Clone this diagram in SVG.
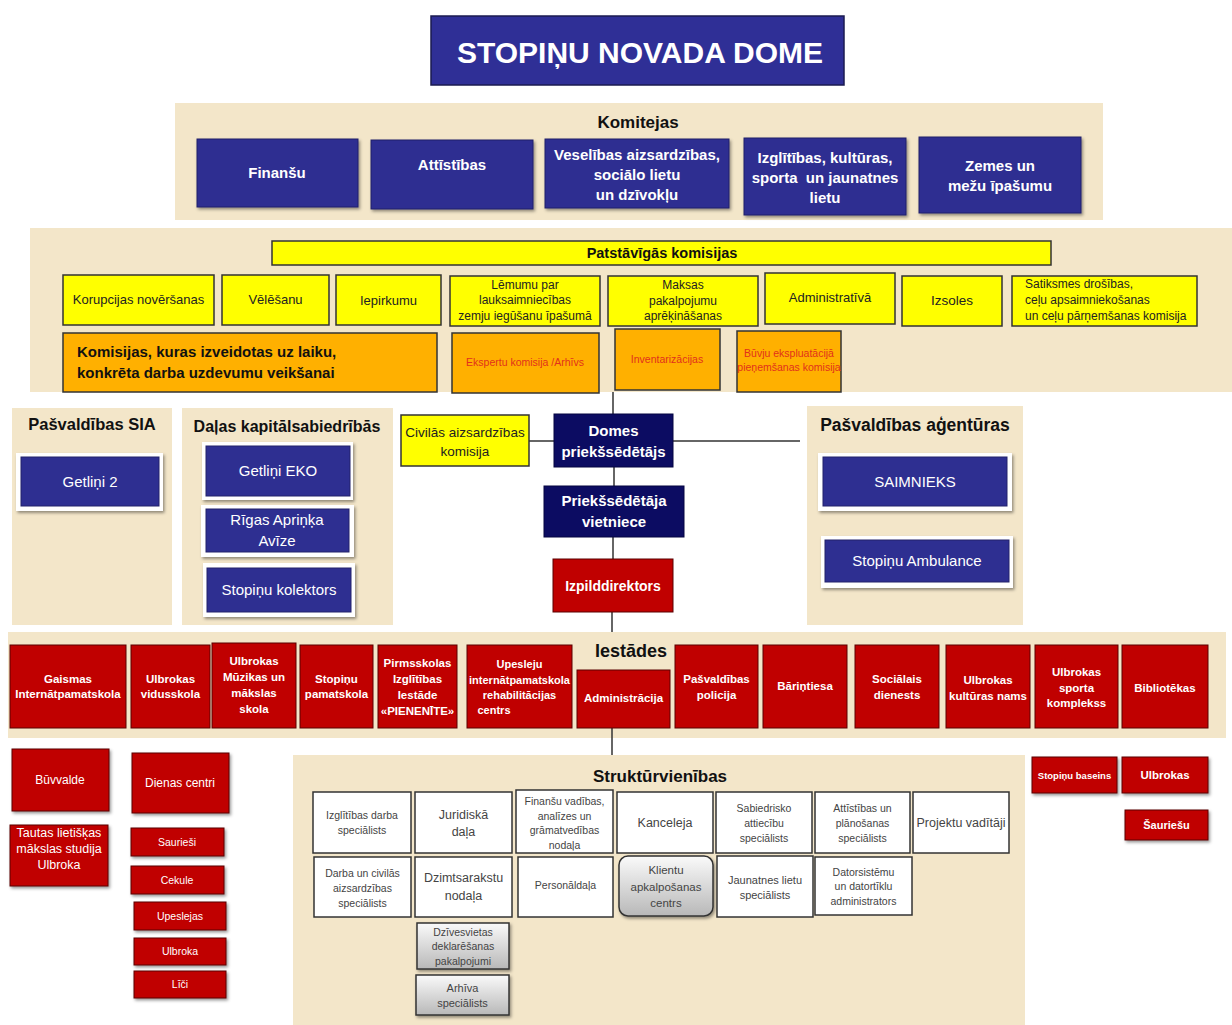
<svg xmlns="http://www.w3.org/2000/svg" width="1232" height="1025" viewBox="0 0 1232 1025">
<defs>
<style>
text{font-family:'Liberation Sans',Arial,sans-serif;text-anchor:middle}
.panel{fill:#F3E6C9}
.kb{fill:#2E2F91;stroke:#22226a;stroke-width:1}
.navy{fill:#0C0C62;stroke:#050540;stroke-width:1}
.wt{fill:#fff}
.b{font-weight:bold}
.hd{fill:#111;font-weight:bold}
.yel{fill:#FFFF00;stroke:#333;stroke-width:1.5}
.org{fill:#FFB000;stroke:#333;stroke-width:1.5}
.dt{fill:#222}
.rt{fill:#E2301C}
.red{fill:#C00000;stroke:#5a0000;stroke-width:1}
.frame{fill:#fff}
.sbox{fill:#fff;stroke:#333;stroke-width:1.5}
.gbox{fill:url(#gg);stroke:#333;stroke-width:1.5}
.st{fill:#444}
.ln{stroke:#333;stroke-width:1.5;fill:none}
</style>
<linearGradient id="gg" x1="0" y1="0" x2="0" y2="1">
<stop offset="0" stop-color="#FAFAFA"/>
<stop offset="1" stop-color="#B8B8B8"/>
</linearGradient>
<filter id="sh" x="-10%" y="-10%" width="130%" height="140%">
<feDropShadow dx="1.5" dy="2" stdDeviation="1.5" flood-color="#000" flood-opacity="0.4"/>
</filter>
</defs>
<rect width="1232" height="1025" fill="#fff"/>

<!-- panels -->
<g id="panels">
<rect class="panel" x="175" y="103" width="928" height="117"/>
<rect class="panel" x="30" y="228" width="1202" height="164"/>
<rect class="panel" x="12" y="408" width="160" height="217"/>
<rect class="panel" x="182" y="408" width="211" height="217"/>
<rect class="panel" x="807" y="406" width="216" height="219"/>
<rect class="panel" x="8" y="632" width="1218" height="106"/>
<rect class="panel" x="293" y="755" width="732" height="270"/>
</g>

<!-- connectors -->
<g id="connectors">
<path class="ln" d="M613,392 V414"/>
<path class="ln" d="M614,467 V486"/>
<path class="ln" d="M613,537 V559"/>
<path class="ln" d="M612,612 V632"/>
<path class="ln" d="M529,441 H554"/>
<path class="ln" d="M673,441 H800"/>
<path class="ln" d="M612,728 V755"/>
</g>

<g id="title">
<rect x="431" y="16" width="413" height="69" fill="#2F2F96" stroke="#1b1b50" stroke-width="1.5"/>
<text x="640" y="63" class="wt b" font-size="30">STOPIŅU NOVADA DOME</text>
</g>

<g id="komitejas">
<text x="638" y="128" class="hd" font-size="17">Komitejas</text>
</g>
<g id="k-finansu"><rect class="kb" x="197" y="139" width="161" height="68" filter="url(#sh)"/><text class="wt b" font-size="15" x="277" y="178">Finanšu</text></g>
<g id="k-attistibas"><rect class="kb" x="371" y="140" width="162" height="69" filter="url(#sh)"/><text class="wt b" font-size="15" x="452" y="170">Attīstības</text></g>
<g id="k-veselibas"><rect class="kb" x="545" y="139" width="184" height="69" filter="url(#sh)"/><text class="wt b" font-size="15" x="637"><tspan x="637" y="160">Veselības aizsardzības,</tspan><tspan x="637" y="180">sociālo lietu</tspan><tspan x="637" y="200">un dzīvokļu</tspan></text></g>
<g id="k-izglitibas"><rect class="kb" x="744" y="138" width="162" height="77" filter="url(#sh)"/><text class="wt b" font-size="15" x="825"><tspan x="825" y="163">Izglītības, kultūras,</tspan><tspan x="825" y="183">sporta&#160; un jaunatnes</tspan><tspan x="825" y="203">lietu</tspan></text></g>
<g id="k-zemes"><rect class="kb" x="919" y="137" width="162" height="76" filter="url(#sh)"/><text class="wt b" font-size="15" x="1000"><tspan x="1000" y="171">Zemes un</tspan><tspan x="1000" y="191">mežu īpašumu</tspan></text></g>

<g id="patstavigas"><rect class="yel" x="272" y="241" width="779" height="24"/><text class="hd" font-size="14.5" x="662" y="258">Patstāvīgās komisijas</text></g>
<g id="p-korupcijas"><rect class="yel" x="63" y="275" width="151" height="50"/><text class="dt" font-size="13" x="138.5" y="304">Korupcijas novēršanas</text></g>
<g id="p-velesanu"><rect class="yel" x="222" y="275" width="107" height="50"/><text class="dt" font-size="13" x="275.5" y="304">Vēlēšanu</text></g>
<g id="p-iepirkumu"><rect class="yel" x="336" y="275" width="105" height="50"/><text class="dt" font-size="13" x="388.5" y="305">Iepirkumu</text></g>
<g id="p-lemumu"><rect class="yel" x="450" y="276" width="150" height="50"/><text class="dt" font-size="12" x="525"><tspan x="525" y="289">Lēmumu par</tspan><tspan x="525" y="304">lauksaimniecības</tspan><tspan x="525" y="320">zemju iegūšanu īpašumā</tspan></text></g>
<g id="p-maksas"><rect class="yel" x="608" y="276" width="150" height="50"/><text class="dt" font-size="12" x="683"><tspan x="683" y="289">Maksas</tspan><tspan x="683" y="305">pakalpojumu</tspan><tspan x="683" y="320">aprēķināšanas</tspan></text></g>
<g id="p-administrativa"><rect class="yel" x="765" y="273" width="130" height="51"/><text class="dt" font-size="13" x="830" y="302">Administratīvā</text></g>
<g id="p-izsoles"><rect class="yel" x="902" y="276" width="100" height="50"/><text class="dt" font-size="13.5" x="952" y="305">Izsoles</text></g>
<g id="p-satiksmes"><rect class="yel" x="1012" y="276" width="185" height="50"/><text class="dt" font-size="12" style="text-anchor:start"><tspan x="1025" y="288">Satiksmes drošības,</tspan><tspan x="1025" y="304">ceļu apsaimniekošanas</tspan><tspan x="1025" y="320">un ceļu pārņemšanas komisija</tspan></text></g>

<g id="o-komisijas"><rect class="org" x="63" y="333" width="374" height="59"/><text class="hd" font-size="15" style="text-anchor:start"><tspan x="77" y="357">Komisijas, kuras izveidotas uz laiku,</tspan><tspan x="77" y="378">konkrēta darba uzdevumu veikšanai</tspan></text></g>
<g id="o-ekspertu"><rect class="org" x="452" y="333" width="147" height="60"/><text class="rt" font-size="10.5" x="525" y="366">Ekspertu komisija /Arhīvs</text></g>
<g id="o-inventarizacijas"><rect class="org" x="615" y="329" width="105" height="61"/><text class="rt" font-size="10.5" x="667" y="363">Inventarizācijas</text></g>
<g id="o-buvju"><rect class="org" x="737" y="331" width="104" height="61"/><text class="rt" font-size="10.5" x="789"><tspan x="789" y="357">Būvju ekspluatācijā</tspan><tspan x="789" y="371">pieņemšanas komisija</tspan></text></g>

<g id="sia"><text class="hd" font-size="16.5" x="92" y="430">Pašvaldības SIA</text></g>
<g id="sia-getlini2"><rect class="frame" x="16" y="453" width="147" height="58" filter="url(#sh)"/><rect class="kb" x="21" y="457" width="138" height="49" stroke="none"/><text class="wt" font-size="15" x="90" y="487">Getliņi 2</text></g>

<g id="dalas"><text class="hd" font-size="16" x="287" y="432">Daļas kapitālsabiedrībās</text></g>
<g id="d-getlinieko"><rect class="frame" x="202" y="442" width="151" height="58" filter="url(#sh)"/><rect class="kb" x="206" y="446" width="144" height="50" stroke="none"/><text class="wt" font-size="15" x="278" y="476">Getliņi EKO</text></g>
<g id="d-rigas"><rect class="frame" x="201" y="505" width="153" height="52" filter="url(#sh)"/><rect class="kb" x="206" y="509" width="143" height="43" stroke="none"/><text class="wt" font-size="15" x="277"><tspan x="277" y="525">Rīgas Apriņķa</tspan><tspan x="277" y="546">Avīze</tspan></text></g>
<g id="d-kolektors"><rect class="frame" x="203" y="563" width="152" height="54" filter="url(#sh)"/><rect class="kb" x="207" y="568" width="144" height="44" stroke="none"/><text class="wt" font-size="15" x="279" y="595">Stopiņu kolektors</text></g>

<g id="civilas"><rect class="yel" x="401" y="415" width="128" height="51"/><text class="dt" font-size="13.5" x="465"><tspan x="465" y="437">Civilās aizsardzības</tspan><tspan x="465" y="456">komisija</tspan></text></g>
<g id="domes"><rect class="navy" x="554" y="414" width="119" height="53"/><text class="wt b" font-size="15" x="613.5"><tspan x="613.5" y="436">Domes</tspan><tspan x="613.5" y="457">priekšsēdētājs</tspan></text></g>
<g id="vietniece"><rect class="navy" x="544" y="486" width="140" height="51"/><text class="wt b" font-size="15" x="614"><tspan x="614" y="506">Priekšsēdētāja</tspan><tspan x="614" y="527">vietniece</tspan></text></g>
<g id="izpilddirektors"><rect class="red" x="553" y="559" width="120" height="53"/><text class="wt b" font-size="14" x="613" y="591">Izpilddirektors</text></g>

<g id="agenturas"><text class="hd" font-size="17.5" x="915" y="431">Pašvaldības aģentūras</text></g>
<g id="a-saimnieks"><rect class="frame" x="818" y="453" width="194" height="58" filter="url(#sh)"/><rect class="kb" x="823" y="457" width="184" height="49" stroke="none"/><text class="wt" font-size="15" x="915" y="487">SAIMNIEKS</text></g>
<g id="a-ambulance"><rect class="frame" x="821" y="536" width="192" height="52" filter="url(#sh)"/><rect class="kb" x="825" y="540" width="184" height="42" stroke="none"/><text class="wt" font-size="15" x="917" y="566">Stopiņu Ambulance</text></g>

<g id="iestades"><text class="hd" font-size="18" x="631" y="657">Iestādes</text></g>
<g id="i-gaismas"><rect class="red" x="10" y="645" width="116" height="83"/><text class="wt b" font-size="11.5"><tspan x="68" y="683">Gaismas</tspan><tspan x="68" y="698">Internātpamatskola</tspan></text></g>
<g id="i-ulbrokas-vsk"><rect class="red" x="131" y="645" width="79" height="83"/><text class="wt b" font-size="11.5"><tspan x="170.5" y="683">Ulbrokas</tspan><tspan x="170.5" y="698">vidusskola</tspan></text></g>
<g id="i-muzikas"><rect class="red" x="212" y="643" width="84" height="85"/><text class="wt b" font-size="11.5"><tspan x="254" y="665">Ulbrokas</tspan><tspan x="254" y="681">Mūzikas un</tspan><tspan x="254" y="697">mākslas</tspan><tspan x="254" y="713">skola</tspan></text></g>
<g id="i-stopinu-psk"><rect class="red" x="300" y="645" width="73" height="83"/><text class="wt b" font-size="11.5"><tspan x="336.5" y="683">Stopiņu</tspan><tspan x="336.5" y="698">pamatskola</tspan></text></g>
<g id="i-pienenite"><rect class="red" x="378" y="645" width="79" height="83"/><text class="wt b" font-size="11.5"><tspan x="417.5" y="667">Pirmsskolas</tspan><tspan x="417.5" y="683">Izglītības</tspan><tspan x="417.5" y="699">Iestāde</tspan><tspan x="417.5" y="715">«PIENENĪTE»</tspan></text></g>
<g id="i-upesleju"><rect class="red" x="467" y="645" width="105" height="83"/><text class="wt b" font-size="11"><tspan x="519.5" y="668">Upesleju</tspan><tspan x="519.5" y="684">internātpamatskola</tspan><tspan x="519.5" y="699">rehabilitācijas</tspan><tspan x="494" y="714">centrs</tspan></text></g>
<g id="i-administracija"><rect class="red" x="577" y="670" width="93" height="58"/><text class="wt b" font-size="11.5" x="623.5" y="702">Administrācija</text></g>
<g id="i-policija"><rect class="red" x="675" y="645" width="83" height="83"/><text class="wt b" font-size="11.5"><tspan x="716.5" y="683">Pašvaldības</tspan><tspan x="716.5" y="699">policija</tspan></text></g>
<g id="i-barintiesa"><rect class="red" x="763" y="645" width="84" height="83"/><text class="wt b" font-size="11.5" x="805" y="690">Bāriņtiesa</text></g>
<g id="i-socialais"><rect class="red" x="855" y="645" width="84" height="83"/><text class="wt b" font-size="11.5"><tspan x="897" y="683">Sociālais</tspan><tspan x="897" y="699">dienests</tspan></text></g>
<g id="i-kulturas"><rect class="red" x="946" y="645" width="84" height="83"/><text class="wt b" font-size="11.5"><tspan x="988" y="684">Ulbrokas</tspan><tspan x="988" y="700">kultūras nams</tspan></text></g>
<g id="i-sporta"><rect class="red" x="1035" y="645" width="83" height="83"/><text class="wt b" font-size="11.5"><tspan x="1076.5" y="676">Ulbrokas</tspan><tspan x="1076.5" y="692">sporta</tspan><tspan x="1076.5" y="707">komplekss</tspan></text></g>
<g id="i-bibliotekas"><rect class="red" x="1122" y="645" width="86" height="83"/><text class="wt b" font-size="11.5" x="1165" y="692">Bibliotēkas</text></g>

<g id="buvvalde"><rect class="red" x="12" y="749" width="97" height="62" filter="url(#sh)"/><text class="wt" font-size="12" x="60" y="784">Būvvalde</text></g>
<g id="dienas-centri"><rect class="red" x="132" y="753" width="97" height="60" filter="url(#sh)"/><text class="wt" font-size="12" x="180" y="787">Dienas centri</text></g>
<g id="tautas"><rect class="red" x="10" y="825" width="98" height="61" filter="url(#sh)"/><text class="wt" font-size="12.5"><tspan x="59" y="837">Tautas lietišķas</tspan><tspan x="59" y="853">mākslas studija</tspan><tspan x="59" y="869">Ulbroka</tspan></text></g>
<g id="dc-sauriesi"><rect class="red" x="131" y="828" width="93" height="28" filter="url(#sh)"/><text class="wt" font-size="10.5" x="177" y="846">Saurieši</text></g>
<g id="dc-cekule"><rect class="red" x="131" y="866" width="93" height="28" filter="url(#sh)"/><text class="wt" font-size="10.5" x="177" y="884">Cekule</text></g>
<g id="dc-upeslejas"><rect class="red" x="134" y="902" width="92" height="28" filter="url(#sh)"/><text class="wt" font-size="10.5" x="180" y="920">Upeslejas</text></g>
<g id="dc-ulbroka"><rect class="red" x="134" y="938" width="92" height="27" filter="url(#sh)"/><text class="wt" font-size="10.5" x="180" y="955">Ulbroka</text></g>
<g id="dc-lici"><rect class="red" x="134" y="971" width="92" height="27" filter="url(#sh)"/><text class="wt" font-size="10.5" x="180" y="988">Līči</text></g>

<g id="strukturvienibas"><text class="hd" font-size="17" x="660" y="782">Struktūrvienības</text></g>
<g id="s-izglitibas"><rect class="sbox" x="313" y="792" width="98" height="61"/><text class="st" font-size="10.5"><tspan x="362" y="819">Izglītības darba</tspan><tspan x="362" y="834">speciālists</tspan></text></g>
<g id="s-juridiska"><rect class="sbox" x="415" y="792" width="97" height="61"/><text class="st" font-size="12.5"><tspan x="463.5" y="819">Juridiskā</tspan><tspan x="463.5" y="836">daļa</tspan></text></g>
<g id="s-finansu"><rect class="sbox" x="516" y="790" width="97" height="63"/><text class="st" font-size="10.5"><tspan x="564.5" y="805">Finanšu vadības,</tspan><tspan x="564.5" y="820">analīzes un</tspan><tspan x="564.5" y="834">grāmatvedības</tspan><tspan x="564.5" y="849">nodaļa</tspan></text></g>
<g id="s-kanceleja"><rect class="sbox" x="617" y="792" width="96" height="61"/><text class="st" font-size="12.5" x="665" y="827">Kanceleja</text></g>
<g id="s-sabiedrisko"><rect class="sbox" x="716" y="792" width="96" height="61"/><text class="st" font-size="10.5"><tspan x="764" y="812">Sabiedrisko</tspan><tspan x="764" y="827">attiecību</tspan><tspan x="764" y="842">speciālists</tspan></text></g>
<g id="s-attistibas"><rect class="sbox" x="815" y="792" width="95" height="61"/><text class="st" font-size="10.5"><tspan x="862.5" y="812">Attīstības un</tspan><tspan x="862.5" y="827">plānošanas</tspan><tspan x="862.5" y="842">speciālists</tspan></text></g>
<g id="s-projektu"><rect class="sbox" x="913" y="792" width="96" height="61"/><text class="st" font-size="12.5" x="961" y="827">Projektu vadītāji</text></g>
<g id="s-darba"><rect class="sbox" x="314" y="857" width="97" height="60"/><text class="st" font-size="10.5"><tspan x="362.5" y="877">Darba un civilās</tspan><tspan x="362.5" y="892">aizsardzības</tspan><tspan x="362.5" y="907">speciālists</tspan></text></g>
<g id="s-dzimtsarakstu"><rect class="sbox" x="415" y="857" width="97" height="60"/><text class="st" font-size="12.5"><tspan x="463.5" y="882">Dzimtsarakstu</tspan><tspan x="463.5" y="900">nodaļa</tspan></text></g>
<g id="s-personaldala"><rect class="sbox" x="518" y="857" width="95" height="60"/><text class="st" font-size="10.5" x="565.5" y="889">Personāldaļa</text></g>
<g id="s-klientu"><rect class="gbox" x="619" y="856" width="94" height="60" rx="9" filter="url(#sh)"/><text class="st" font-size="11.5"><tspan x="666" y="874">Klientu</tspan><tspan x="666" y="891">apkalpošanas</tspan><tspan x="666" y="907">centrs</tspan></text></g>
<g id="s-jaunatnes"><rect class="sbox" x="717" y="856" width="96" height="61"/><text class="st" font-size="11"><tspan x="765" y="884">Jaunatnes lietu</tspan><tspan x="765" y="899">speciālists</tspan></text></g>
<g id="s-datorsistemu"><rect class="sbox" x="815" y="857" width="97" height="58"/><text class="st" font-size="10.5"><tspan x="863.5" y="876">Datorsistēmu</tspan><tspan x="863.5" y="890">un datortīklu</tspan><tspan x="863.5" y="905">administrators</tspan></text></g>
<g id="s-dzivesvietas"><rect class="gbox" x="417" y="923" width="92" height="46" filter="url(#sh)"/><text class="st" font-size="10.5"><tspan x="463" y="936">Dzīvesvietas</tspan><tspan x="463" y="950">deklarēšanas</tspan><tspan x="463" y="965">pakalpojumi</tspan></text></g>
<g id="s-arhiva"><rect class="gbox" x="416" y="975" width="93" height="40" filter="url(#sh)"/><text class="st" font-size="11"><tspan x="462.5" y="992">Arhīva</tspan><tspan x="462.5" y="1007">speciālists</tspan></text></g>

<g id="b-stopinu-baseins"><rect class="red" x="1032" y="757" width="85" height="36" filter="url(#sh)"/><text class="wt b" font-size="9.5" x="1074.5" y="779">Stopiņu baseins</text></g>
<g id="b-ulbrokas"><rect class="red" x="1122" y="757" width="86" height="36" filter="url(#sh)"/><text class="wt b" font-size="11.5" x="1165" y="779">Ulbrokas</text></g>
<g id="b-sauriesu"><rect class="red" x="1125" y="810" width="83" height="30" filter="url(#sh)"/><text class="wt b" font-size="11" x="1166.5" y="829">Šauriešu</text></g>
</svg>
